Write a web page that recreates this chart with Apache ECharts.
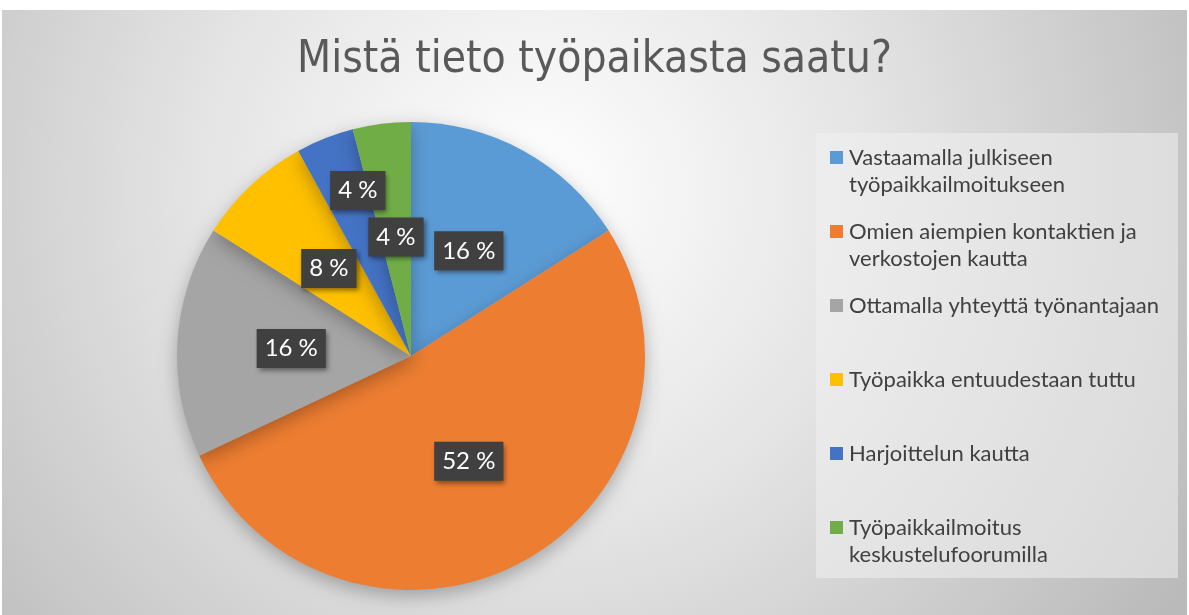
<!DOCTYPE html>
<html>
<head>
<meta charset="utf-8">
<script src="https://cdn.jsdelivr.net/npm/echarts@6/dist/echarts.min.js"></script>
<style>
html,body{margin:0;padding:0;background:#ffffff;}
#chart{width:1189px;height:615px;}
</style>
</head>
<body>
<div id="chart"></div>
<script>
const chartTitle = 'Mistä tieto työpaikasta saatu?';
const categories = [
  'Vastaamalla julkiseen työpaikkailmoitukseen',
  'Omien aiempien kontaktien ja verkostojen kautta',
  'Ottamalla yhteyttä työnantajaan',
  'Työpaikka entuudestaan tuttu',
  'Harjoittelun kautta',
  'Työpaikkailmoitus keskustelufoorumilla'
];
const legendLabels = [
  'Vastaamalla julkiseen\ntyöpaikkailmoitukseen',
  'Omien aiempien kontaktien ja\nverkostojen kautta',
  'Ottamalla yhteyttä työnantajaan',
  'Työpaikka entuudestaan tuttu',
  'Harjoittelun kautta',
  'Työpaikkailmoitus\nkeskustelufoorumilla'
];
const percentValues = [16, 52, 16, 8, 4, 4];
const sliceColors = ['#5B9BD5', '#ED7D31', '#A5A5A5', '#FFC000', '#4472C4', '#70AD47'];

const chart = echarts.init(document.getElementById('chart'), null, {renderer: 'canvas'});

const option = {
  animation: false,
  color: sliceColors,
  graphic: [
    {
      type: 'rect', z: -10, silent: true,
      shape: {x: 2, y: 10, width: 1185, height: 605},
      style: {
        fill: {
          type: 'radial', x: 0.45, y: 0.3, r: 1.25,
          colorStops: [
            {offset: 0, color: '#ffffff'},
            {offset: 0.45, color: '#e4e4e4'},
            {offset: 1, color: '#bababa'}
          ]
        }
      }
    },
    {
      type: 'rect', z: -9, silent: true,
      shape: {x: 816, y: 133, width: 362, height: 445},
      style: {fill: 'rgba(240,240,240,0.55)'}
    }
  ],
  title: {
    text: chartTitle,
    left: 'center',
    top: 34,
    textStyle: {
      fontFamily: '"Liberation Sans Narrow", "DejaVu Sans Condensed", "Liberation Sans", sans-serif',
      fontSize: 44,
      fontWeight: 'normal',
      color: '#595959'
    }
  },
  legend: {
    orient: 'vertical',
    left: 830,
    top: 117,
    padding: 0,
    itemGap: -7,
    itemWidth: 13,
    itemHeight: 13,
    icon: 'rect',
    data: categories,
    selectedMode: false,
    formatter: function (name) {
      const t = legendLabels[categories.indexOf(name)];
      return t.indexOf('\n') >= 0 ? '\n' + t : '\n' + t + '\n';
    },
    textStyle: {
      fontFamily: 'Lato, "Open Sans", sans-serif',
      fontSize: 22,
      lineHeight: 27,
      color: '#404040',
      padding: [0, 0, 0, 1]
    }
  },
  series: [{
    type: 'pie',
    center: [411, 356],
    radius: 234,
    startAngle: 90,
    clockwise: true,
    percentPrecision: 0,
    data: categories.map((c, i) => ({name: c, value: percentValues[i]})),
    itemStyle: {
      borderWidth: 0,
      shadowBlur: 18,
      shadowColor: 'rgba(0,0,0,0.28)',
      shadowOffsetY: 6
    },
    label: {
      show: true,
      position: 'inside',
      formatter: '{d} %',
      fontFamily: 'Lato, "Open Sans", sans-serif',
      fontSize: 24,
      lineHeight: 27,
      color: '#ffffff',
      backgroundColor: '#404040',
      padding: [6, 8, 6, 8],
      shadowColor: 'rgba(0,0,0,0.45)',
      shadowBlur: 5,
      shadowOffsetX: 2,
      shadowOffsetY: 3
    },
    labelLine: {show: false},
    labelLayout: function (params) {
      if (params.dataIndex === 4) {
        return {dx: -9, dy: -54};
      }
      return {};
    },
    emphasis: {disabled: true}
  }]
};
chart.setOption(option);
</script>
</body>
</html>
